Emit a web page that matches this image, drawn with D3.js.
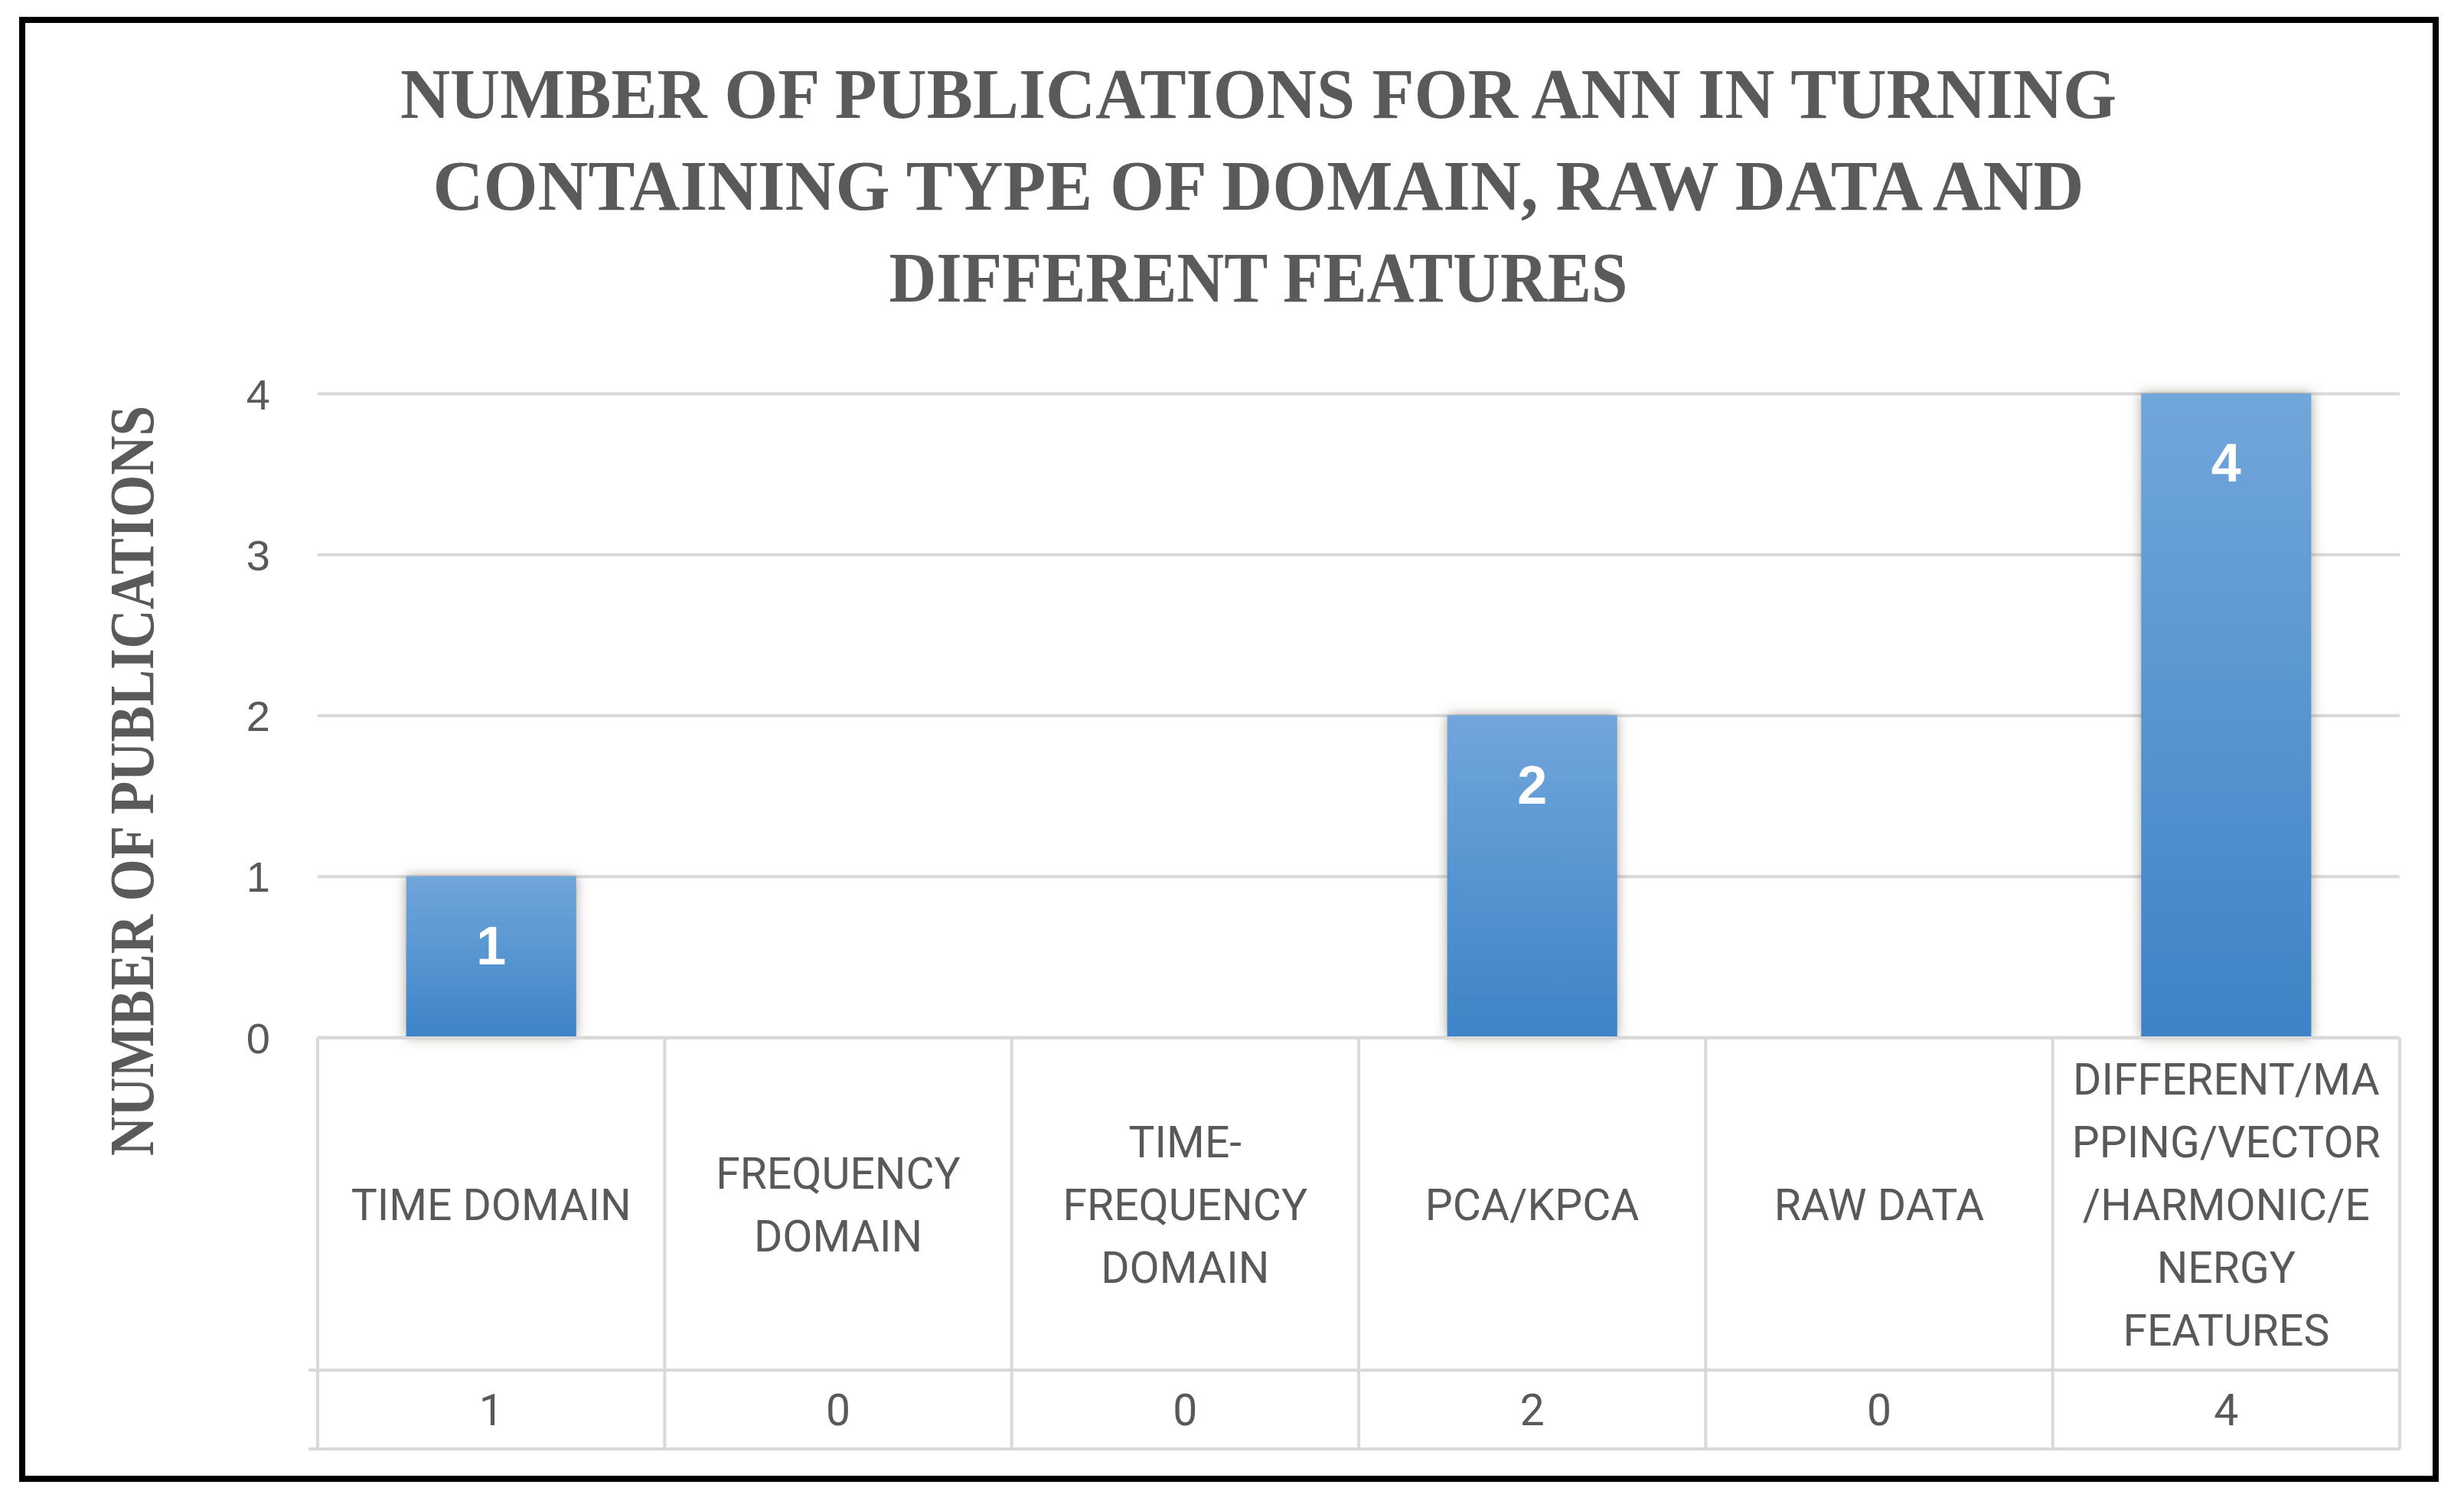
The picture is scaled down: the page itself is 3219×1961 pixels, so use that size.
<!DOCTYPE html>
<html>
<head>
<meta charset="utf-8">
<script src="https://cdn.jsdelivr.net/npm/d3@7"></script>
<style>
  body { margin: 0; background: #fff; }
  svg { display: block; }
</style>
</head>
<body>
<div id="chart"></div>
<script>
// chart data
const categories = ['TIME DOMAIN', 'FREQUENCY DOMAIN', 'TIME-FREQUENCY DOMAIN', 'PCA/KPCA', 'RAW DATA',
  'DIFFERENT/MAPPING/VECTOR/HARMONIC/ENERGY FEATURES']
const categoryLines = [
  ['TIME DOMAIN'],
  ['FREQUENCY', 'DOMAIN'],
  ['TIME-', 'FREQUENCY', 'DOMAIN'],
  ['PCA/KPCA'],
  ['RAW DATA'],
  ['DIFFERENT/MA', 'PPING/VECTOR', '/HARMONIC/E', 'NERGY', 'FEATURES']
]
const values = [1, 0, 0, 2, 0, 4]
const yTicks = [0, 1, 2, 3, 4]
const titleLines = ['NUMBER OF PUBLICATIONS FOR ANN IN TURNING',
  'CONTAINING TYPE OF DOMAIN, RAW DATA AND', 'DIFFERENT FEATURES']
const yTitle = 'NUMBER OF PUBLICATIONS'

var width = 3219,
    height = 1961
var plot = {left: 415, right: 3135, top: 514, bottom: 1355}
var table = {top: 1356, mid: 1790, bottom: 1893, keyLeft: 403}
const textColor = '#595959'
const lineColor = '#d9d9d9'

var svg = d3.select('#chart')
  .append('svg')
    .attr('width', width)
    .attr('height', height)

svg.append('rect')
  .attr('width', width).attr('height', height)
  .attr('fill', '#fff')

var defs = svg.append('defs')
var grad = defs.append('linearGradient')
  .attr('id', 'barGrad')
  .attr('x1', 0).attr('y1', 0).attr('x2', 0).attr('y2', 1)
grad.append('stop').attr('offset', '0%').attr('stop-color', '#71a6db')
grad.append('stop').attr('offset', '100%').attr('stop-color', '#3d84c6')

var shadow = defs.append('filter')
  .attr('id', 'barShadow')
  .attr('x', '-20%').attr('y', '-10%').attr('width', '140%').attr('height', '120%')
shadow.append('feDropShadow')
  .attr('dx', 0).attr('dy', 0)
  .attr('stdDeviation', 8)
  .attr('flood-color', '#6b5a4a')
  .attr('flood-opacity', 0.55)

// outer frame
svg.append('rect')
  .attr('x', 29).attr('y', 26)
  .attr('width', 3153).attr('height', 1906)
  .attr('fill', 'none')
  .attr('stroke', '#000')
  .attr('stroke-width', 8)

// title
svg.append('g')
  .selectAll('text')
  .data(titleLines)
  .enter()
  .append('text')
    .attr('x', 1644)
    .attr('y', (d, i) => 154 + i * 120)
    .attr('text-anchor', 'middle')
    .attr('font-family', 'Liberation Serif, serif')
    .attr('font-weight', 'bold')
    .attr('font-size', 94)
    .attr('fill', '#5a5a5a')
    .attr('textLength', (d, i) => [2242, 2157, 965][i])
    .attr('lengthAdjust', 'spacingAndGlyphs')
    .text(d => d)

// scales
var x = d3.scaleBand()
  .domain(categories)
  .range([plot.left, plot.right])
  .paddingInner(0.51)
  .paddingOuter(0.255)

var xCol = d3.scaleBand()
  .domain(categories)
  .range([plot.left, plot.right])

var y = d3.scaleLinear()
  .domain([0, 4])
  .range([plot.bottom, plot.top])

// gridlines + tick labels
var yAxis = svg.append('g')
  .attr('transform', 'translate(' + plot.left + ',0)')
  .call(d3.axisLeft(y)
    .tickValues(yTicks)
    .tickSize(-(plot.right - plot.left))
    .tickPadding(62)
    .tickFormat(d3.format('d')))
yAxis.select('.domain').remove()
yAxis.selectAll('line')
  .attr('stroke', lineColor)
  .attr('stroke-width', 4)
yAxis.selectAll('text')
  .attr('font-family', 'Liberation Sans, Arial, sans-serif')
  .attr('font-size', 56)
  .attr('fill', textColor)
  .attr('dy', '0.36em')

// y axis title
svg.append('text')
  .attr('transform', 'translate(200,1020) rotate(-90)')
  .attr('text-anchor', 'middle')
  .attr('font-family', 'Liberation Serif, serif')
  .attr('font-weight', 'bold')
  .attr('font-size', 82)
  .attr('fill', '#5a5a5a')
  .attr('textLength', 980)
  .attr('lengthAdjust', 'spacingAndGlyphs')
  .text(yTitle)

// bars
var barData = values.map((v, i) => ({cat: categories[i], value: v})).filter(d => d.value > 0)
var bars = svg.append('g')
bars.selectAll('rect')
  .data(barData)
  .enter()
  .append('rect')
    .attr('x', d => x(d.cat))
    .attr('y', d => y(d.value))
    .attr('width', x.bandwidth())
    .attr('height', d => y(0) - y(d.value))
    .attr('fill', 'url(#barGrad)')
    .attr('filter', 'url(#barShadow)')

bars.selectAll('text')
  .data(barData)
  .enter()
  .append('text')
    .attr('x', d => x(d.cat) + x.bandwidth() / 2)
    .attr('y', d => y(d.value) + 90)
    .attr('dy', '0.36em')
    .attr('text-anchor', 'middle')
    .attr('font-family', 'Liberation Sans, Arial, sans-serif')
    .attr('font-weight', 'bold')
    .attr('font-size', 70)
    .attr('fill', '#fff')
    .text(d => d.value)

// data table under the axis
var tbl = svg.append('g')
  .attr('stroke', lineColor)
  .attr('stroke-width', 4)
tbl.append('line')
  .attr('x1', plot.left).attr('x2', plot.right)
  .attr('y1', table.top).attr('y2', table.top)
;[table.mid, table.bottom].forEach(yy => {
  tbl.append('line')
    .attr('x1', table.keyLeft).attr('x2', plot.right)
    .attr('y1', yy).attr('y2', yy)
})
tbl.selectAll('.vline')
  .data(categories.map(c => xCol(c)).concat([plot.right]))
  .enter()
  .append('line')
    .attr('class', 'vline')
    .attr('x1', d => d).attr('x2', d => d)
    .attr('y1', table.top).attr('y2', table.bottom)

var headCenter = (table.top + table.mid) / 2
var lineGap = 82
var heads = svg.append('g')
  .selectAll('text')
  .data(categories)
  .enter()
  .append('text')
    .attr('text-anchor', 'middle')
    .attr('font-family', 'Roboto, sans-serif')
    .attr('font-size', 57)
    .attr('fill', textColor)
heads.each(function(c, i) {
  var lines = categoryLines[i]
  var t = d3.select(this)
  lines.forEach((ln, j) => {
    t.append('tspan')
      .attr('x', xCol(c) + xCol.bandwidth() / 2)
      .attr('y', headCenter + (j - (lines.length - 1) / 2) * lineGap)
      .attr('dy', '0.36em')
      .text(ln)
  })
})

svg.append('g')
  .selectAll('text')
  .data(values)
  .enter()
  .append('text')
    .attr('x', (d, i) => xCol(categories[i]) + xCol.bandwidth() / 2)
    .attr('y', (table.mid + table.bottom) / 2)
    .attr('dy', '0.36em')
    .attr('text-anchor', 'middle')
    .attr('font-family', 'Roboto, sans-serif')
    .attr('font-size', 57)
    .attr('fill', textColor)
    .text(d => d)
</script>
</body>
</html>
